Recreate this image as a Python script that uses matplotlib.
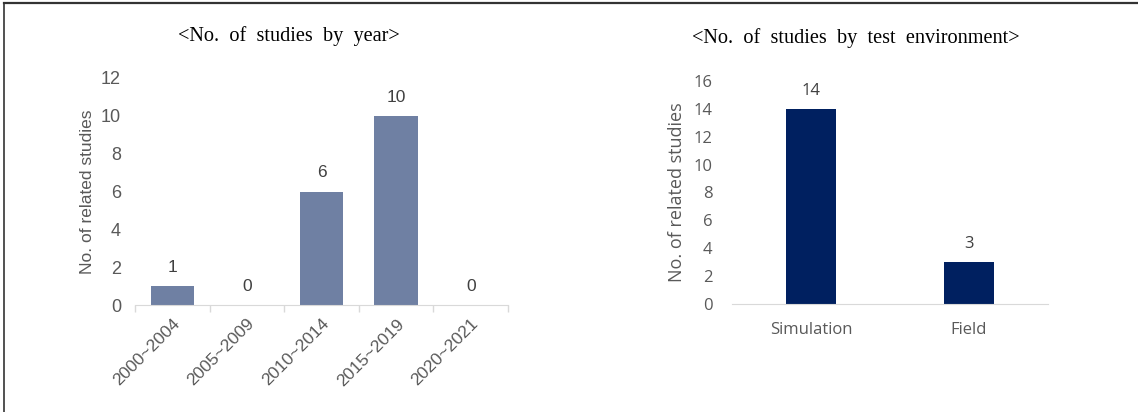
import matplotlib
matplotlib.use("Agg")
import matplotlib.pyplot as plt
from matplotlib.lines import Line2D

# Data
year_categories = ["2000~2004", "2005~2009", "2010~2014", "2015~2019", "2020~2021"]
year_counts = [1, 0, 6, 10, 0]
env_categories = ["Simulation", "Field"]
env_counts = [14, 3]

W, H = 1138, 412
fig = plt.figure(figsize=(W / 100, H / 100), dpi=100)
fig.patch.set_facecolor("white")

def box(x0, y0, x1, y1):
    return [x0 / W, 1 - y1 / H, (x1 - x0) / W, (y1 - y0) / H]

grey = "#595959"
axis_grey = "#D9D9D9"

# Left chart
ax1 = fig.add_axes(box(135, 78, 508, 305))
xs = range(len(year_categories))
ax1.bar(xs, year_counts, width=0.58, color="#6F80A3", zorder=2)
ax1.set_xlim(-0.5, len(year_categories) - 0.5)
ax1.set_ylim(0, 12)
ax1.set_yticks(range(0, 13, 2))
ax1.set_xticks(list(xs))
ax1.set_xticklabels(year_categories, rotation=45, ha="right", rotation_mode="anchor",
                    fontsize=12.5, color=grey, family="Liberation Sans")
ax1.set_xticks([i - 0.5 for i in range(len(year_categories) + 1)], minor=True)
ax1.tick_params(axis="x", which="major", length=0, pad=8)
ax1.tick_params(axis="x", which="minor", length=5, color=axis_grey, width=1)
ax1.tick_params(axis="y", length=0, labelsize=13, labelcolor=grey, pad=10)
for lab in ax1.get_yticklabels():
    lab.set_family("Liberation Sans")
for s in ["top", "right", "left"]:
    ax1.spines[s].set_visible(False)
ax1.spines["bottom"].set_color(axis_grey)
for i, v in enumerate(year_counts):
    ax1.annotate(str(v), (i, v), xytext=(0, 8), textcoords="offset points",
                 ha="center", va="bottom", fontsize=12.5, color="#404040", family="Liberation Sans")
ax1.set_ylabel("No. of related studies", fontsize=12.5, color=grey, family="Liberation Sans")
ax1.yaxis.set_label_coords((95 - 135) / 373, 0.5)
fig.text(289 / W, 1 - 36 / H, "<No.  of  studies  by  year>", ha="center", va="center",
         fontsize=14.6, family="Liberation Serif", color="black")

# Right chart
ax2 = fig.add_axes(box(732, 81, 1048, 304))
xs2 = range(len(env_categories))
ax2.bar(xs2, env_counts, width=0.32, color="#002060", zorder=2)
ax2.set_xlim(-0.5, len(env_categories) - 0.5)
ax2.set_ylim(0, 16)
ax2.set_yticks(range(0, 17, 2))
ax2.set_xticks(list(xs2))
ax2.set_xticklabels(env_categories, fontsize=12, color=grey, family="Open Sans")
ax2.tick_params(axis="x", length=0, pad=13)
ax2.tick_params(axis="y", length=0, labelsize=12, labelcolor=grey, pad=14)
for lab in ax2.get_yticklabels():
    lab.set_family("Open Sans")
for s in ["top", "right", "left"]:
    ax2.spines[s].set_visible(False)
ax2.spines["bottom"].set_color(axis_grey)
for i, v in enumerate(env_counts):
    ax2.annotate(str(v), (i, v), xytext=(0, 7), textcoords="offset points",
                 ha="center", va="bottom", fontsize=12, color="#404040", family="Open Sans")
ax2.set_ylabel("No. of related studies", fontsize=13, color=grey, family="Open Sans")
ax2.yaxis.set_label_coords((686 - 732) / 316, 0.5)
fig.text(856 / W, 1 - 38 / H, "<No.  of  studies  by  test  environment>", ha="center", va="center",
         fontsize=14.6, family="Liberation Serif", color="black")

# Figure border (top and left)
fig.add_artist(Line2D([4 / W, 1], [1 - 3 / H, 1 - 3 / H], color="#333333", lw=1.6, transform=fig.transFigure))
fig.add_artist(Line2D([4 / W, 4 / W], [0, 1 - 3 / H], color="#333333", lw=1.2, transform=fig.transFigure))

fig.savefig("out.png", dpi=100, facecolor="white")
